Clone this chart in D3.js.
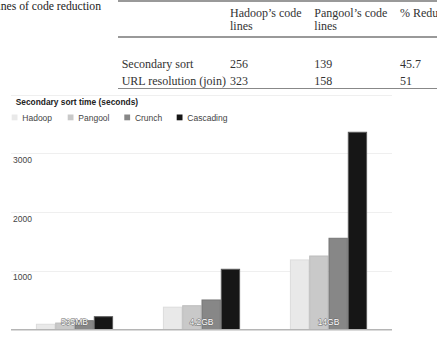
<!DOCTYPE html>
<html><head><meta charset="utf-8">
<script src="https://cdn.jsdelivr.net/npm/d3@7"></script>
<style>
html,body{margin:0;padding:0;background:#fff;overflow:hidden}
svg{display:block}
</style></head>
<body>
<svg id="c" width="437" height="338"></svg>
<script>
// ---- Data ----
const caption = "Lines of code reduction";
const tableHeaders = [["Hadoop\u2019s code", "lines"], ["Pangool\u2019s code", "lines"], ["% Reduction"]];
const tableRows = ["Secondary sort", "URL resolution (join)"];
const hadoopLines = [256, 323];
const pangoolLines = [139, 158];
const reductionPct = ["45.7", "51"];

const chartTitle = "Secondary sort time (seconds)";
const sizes = ["535MB", "4.2GB", "14GB"];
const series = ["Hadoop", "Pangool", "Crunch", "Cascading"];
const hadoop = [89, 380, 1185];
const pangool = [110, 405, 1252];
const crunch = [150, 503, 1554];
const cascading = [218, 1026, 3360];
const yTicks = [1000, 2000, 3000];
const yGrid = [1000, 2000, 3000, 4000];

const values = [hadoop, pangool, crunch, cascading];
const fills = ["#e9e9e9", "#c9c9c9", "#878787", "#161616"];
const strokes = ["#dcdcdc", "#bdbdbd", "#777", "#5a5a5a"];

const svg = d3.select("#c");

// ---- Table (cropped) ----
const serif = "'Liberation Serif','Times New Roman',serif";
svg.append("text").attr("x", 101).attr("y", 10).attr("text-anchor", "end")
  .attr("font-family", serif).attr("font-size", 11.7).attr("fill", "#222").text(caption);

svg.append("line").attr("x1", 118).attr("x2", 437).attr("y1", 1).attr("y2", 1)
  .attr("stroke", "#777").attr("stroke-width", 1.6);
svg.append("line").attr("x1", 118).attr("x2", 437).attr("y1", 37).attr("y2", 37)
  .attr("stroke", "#777").attr("stroke-width", 1.4);
svg.append("line").attr("x1", 118).attr("x2", 437).attr("y1", 88.5).attr("y2", 88.5)
  .attr("stroke", "#888").attr("stroke-width", 1.2);

const colX = [230, 314.3, 400];
tableHeaders.forEach((h, i) => {
  h.forEach((line, j) => {
    svg.append("text").attr("x", colX[i]).attr("y", 16.5 + j * 13.3)
      .attr("font-family", serif).attr("font-size", 12).attr("fill", "#333").text(line);
  });
});
const rowY = [67.5, 85];
tableRows.forEach((r, i) => {
  const cells = [r, String(hadoopLines[i]), String(pangoolLines[i]), reductionPct[i]];
  const xs = [121.7].concat(colX);
  cells.forEach((c, k) => {
    svg.append("text").attr("x", xs[k]).attr("y", rowY[i])
      .attr("font-family", serif).attr("font-size", 12).attr("fill", "#333").text(c);
  });
});

// ---- Bar chart ----
const sans = "'Liberation Sans',Arial,sans-serif";
const x0 = d3.scaleBand().domain(sizes).range([11, 392]).padding(0);
const x1 = d3.scaleBand().domain(series).range([0, x0.bandwidth()]).paddingInner(0).paddingOuter(1.29);
const y = d3.scaleLinear().domain([0, 4000]).range([329.5, 94.7]);

// gridlines
svg.append("g").selectAll("line").data(yGrid).join("line")
  .attr("x1", 11).attr("x2", 392)
  .attr("y1", d => Math.round(y(d)) + 0.5).attr("y2", d => Math.round(y(d)) + 0.5)
  .attr("stroke", "#efefef").attr("stroke-width", 1.2);

// y tick labels (below the gridline)
svg.append("g").selectAll("text").data(yTicks).join("text")
  .attr("x", 13).attr("y", d => y(d) + 9.5)
  .attr("font-family", sans).attr("font-size", 8.5).attr("fill", "#444")
  .text(d => d);

// title & legend
svg.append("text").attr("x", 15.7).attr("y", 104.8)
  .attr("font-family", sans).attr("font-size", 8.4).attr("font-weight", "bold").attr("fill", "#222")
  .text(chartTitle);
const legX = [11.7, 67.7, 124.3, 176.7];
const leg = svg.append("g").selectAll("g").data(series).join("g")
  .attr("transform", (d, i) => `translate(${legX[i]},114.5)`);
leg.append("rect").attr("width", 5.8).attr("height", 5.8)
  .attr("fill", (d, i) => fills[i]);
leg.append("text").attr("x", 10.6).attr("y", 6)
  .attr("font-family", sans).attr("font-size", 8.5).attr("fill", "#444").text(d => d);

// bars
const groups = svg.append("g").selectAll("g").data(sizes).join("g")
  .attr("transform", d => `translate(${x0(d)},0)`);
groups.selectAll("rect").data((d, gi) => series.map((s, si) => ({ s, si, v: values[si][gi] })))
  .join("rect")
  .attr("x", d => x1(d.s) + 0.5).attr("width", x1.bandwidth() - 1)
  .attr("y", d => y(d.v)).attr("height", d => y(0) - y(d.v))
  .attr("fill", d => fills[d.si]).attr("stroke", d => strokes[d.si]).attr("stroke-width", 1);

// baseline
svg.append("line").attr("x1", 11).attr("x2", 392).attr("y1", 329.8).attr("y2", 329.8)
  .attr("stroke", "#b5b5b5").attr("stroke-width", 1.6);

// category labels inside bars
svg.append("g").selectAll("text").data(sizes).join("text")
  .attr("x", d => x0(d) + x0.bandwidth() / 2).attr("y", 325)
  .attr("text-anchor", "middle").attr("font-family", sans).attr("font-size", 8.5)
  .attr("fill", "#fff").attr("stroke", "#6a6a6a").attr("stroke-width", 0.9)
  .attr("paint-order", "stroke").text(d => d);
</script>
</body></html>
